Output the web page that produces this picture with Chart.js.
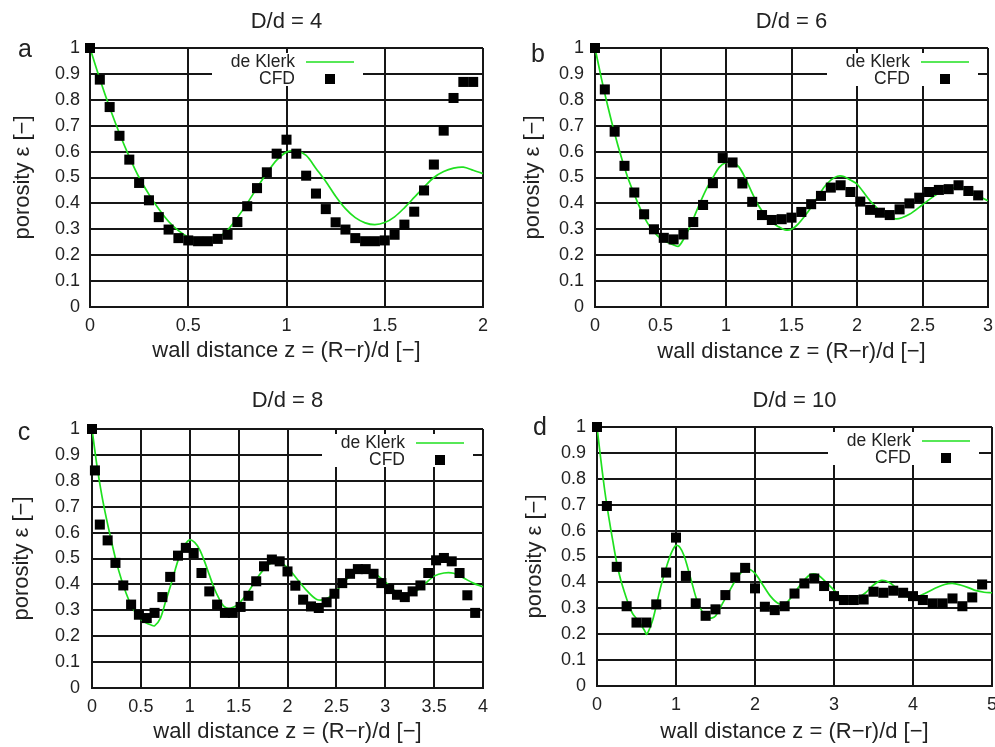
<!DOCTYPE html>
<html><head><meta charset="utf-8">
<script src="https://cdn.jsdelivr.net/npm/chart.js@4.4.1/dist/chart.umd.min.js"></script>
<style>
html,body{margin:0;padding:0;background:#fff;overflow:hidden;width:995px;height:747px;}
canvas{position:absolute;}
</style></head><body>
<canvas id="ca" width="497" height="372" style="left:0px;top:0px"></canvas>
<canvas id="cb" width="503" height="372" style="left:497px;top:0px"></canvas>
<canvas id="cc" width="497" height="375" style="left:0px;top:372px"></canvas>
<canvas id="cd" width="503" height="375" style="left:497px;top:372px"></canvas>
<script>
// ---------- data ----------
const seriesNames = ['de Klerk', 'CFD'];
const panelTitles = ['D/d = 4', 'D/d = 6', 'D/d = 8', 'D/d = 10'];
const panelLetters = ['a', 'b', 'c', 'd'];
const xAxisTitle = 'wall distance z = (R\u2212r)/d [\u2212]';
const yAxisTitle = 'porosity \u03b5 [\u2212]';

const yTicks = [0, 0.1, 0.2, 0.3, 0.4, 0.5, 0.6, 0.7, 0.8, 0.9, 1];
const yTickLabels = ['0', '0.1', '0.2', '0.3', '0.4', '0.5', '0.6', '0.7', '0.8', '0.9', '1'];
const xTicksA = [0, 0.5, 1, 1.5, 2];
const xTickLabelsA = ['0', '0.5', '1', '1.5', '2'];
const xTicksB = [0, 0.5, 1, 1.5, 2, 2.5, 3];
const xTickLabelsB = ['0', '0.5', '1', '1.5', '2', '2.5', '3'];
const xTicksC = [0, 0.5, 1, 1.5, 2, 2.5, 3, 3.5, 4];
const xTickLabelsC = ['0', '0.5', '1', '1.5', '2', '2.5', '3', '3.5', '4'];
const xTicksD = [0, 1, 2, 3, 4, 5];
const xTickLabelsD = ['0', '1', '2', '3', '4', '5'];

// Panel a: D/d = 4
const aCfdX = [0,0.05,0.1,0.15,0.2,0.25,0.3,0.35,0.4,0.45,0.5,0.55,0.6,0.65,0.7,0.75,0.8,0.85,0.9,0.95,1.0,1.05,1.1,1.15,1.2,1.25,1.3,1.35,1.4,1.45,1.5,1.55,1.6,1.65,1.7,1.75,1.8,1.85,1.9,1.95];
const aCfdY = [1.0,0.878,0.772,0.661,0.569,0.479,0.412,0.347,0.299,0.266,0.257,0.254,0.254,0.263,0.279,0.328,0.389,0.459,0.52,0.592,0.646,0.592,0.507,0.438,0.378,0.327,0.299,0.266,0.254,0.254,0.257,0.279,0.318,0.368,0.45,0.55,0.681,0.807,0.869,0.869];
const aKlerkX = [0,0.05,0.1,0.15,0.2,0.25,0.3,0.35,0.4,0.45,0.5,0.55,0.6,0.64,0.7,0.75,0.8,0.85,0.9,0.95,1.0,1.05,1.1,1.15,1.2,1.25,1.3,1.35,1.4,1.45,1.5,1.55,1.6,1.65,1.7,1.75,1.8,1.85,1.9,1.95,2.0];
const aKlerkY = [1.0,0.88,0.77,0.67,0.58,0.5,0.435,0.378,0.33,0.295,0.27,0.257,0.253,0.262,0.297,0.345,0.4,0.46,0.517,0.567,0.598,0.603,0.585,0.535,0.485,0.428,0.38,0.345,0.325,0.318,0.326,0.348,0.383,0.423,0.463,0.5,0.523,0.536,0.54,0.528,0.515];

// Panel b: D/d = 6
const bCfdX = [0,0.075,0.15,0.225,0.3,0.375,0.45,0.525,0.6,0.675,0.75,0.825,0.9,0.975,1.05,1.125,1.2,1.275,1.35,1.425,1.5,1.575,1.65,1.725,1.8,1.875,1.95,2.025,2.1,2.175,2.25,2.325,2.4,2.475,2.55,2.625,2.7,2.775,2.85,2.925];
const bCfdY = [1.0,0.84,0.677,0.545,0.442,0.358,0.30,0.267,0.261,0.28,0.328,0.394,0.478,0.575,0.558,0.477,0.406,0.355,0.336,0.339,0.345,0.367,0.397,0.429,0.461,0.47,0.444,0.407,0.375,0.364,0.355,0.377,0.40,0.422,0.444,0.452,0.455,0.47,0.448,0.431];
const bKlerkX = [0,0.05,0.1,0.15,0.2,0.25,0.3,0.35,0.4,0.45,0.5,0.55,0.6,0.64,0.7,0.75,0.8,0.85,0.9,0.95,1.0,1.05,1.1,1.15,1.2,1.25,1.3,1.35,1.4,1.45,1.5,1.55,1.6,1.65,1.7,1.75,1.8,1.85,1.9,1.95,2.0,2.1,2.2,2.3,2.4,2.5,2.6,2.7,2.8,2.9,3.0];
const bKlerkY = [1.0,0.88,0.77,0.67,0.58,0.5,0.435,0.375,0.325,0.29,0.265,0.25,0.24,0.235,0.285,0.34,0.4,0.455,0.5,0.54,0.558,0.56,0.54,0.495,0.44,0.39,0.355,0.328,0.31,0.298,0.3,0.32,0.35,0.385,0.425,0.463,0.49,0.505,0.504,0.49,0.475,0.41,0.362,0.34,0.358,0.395,0.432,0.455,0.458,0.435,0.41];

// Panel c: D/d = 8
const cCfdX = [0,0.03,0.08,0.16,0.24,0.32,0.4,0.48,0.56,0.64,0.72,0.8,0.88,0.96,1.04,1.12,1.2,1.28,1.36,1.44,1.52,1.6,1.68,1.76,1.84,1.92,2.0,2.08,2.16,2.24,2.32,2.4,2.48,2.56,2.64,2.72,2.8,2.88,2.96,3.04,3.12,3.2,3.28,3.36,3.44,3.52,3.6,3.68,3.76,3.84,3.92];
const cCfdY = [1.0,0.84,0.631,0.57,0.483,0.396,0.322,0.283,0.27,0.29,0.351,0.429,0.511,0.541,0.521,0.444,0.373,0.322,0.29,0.29,0.313,0.356,0.412,0.47,0.496,0.489,0.45,0.395,0.341,0.315,0.309,0.331,0.364,0.405,0.441,0.459,0.459,0.441,0.405,0.382,0.36,0.351,0.373,0.396,0.444,0.493,0.502,0.489,0.444,0.358,0.29];
const cKlerkX = [0,0.05,0.1,0.15,0.2,0.25,0.3,0.35,0.4,0.45,0.5,0.55,0.6,0.64,0.7,0.75,0.8,0.85,0.9,0.95,1.0,1.05,1.1,1.15,1.2,1.25,1.3,1.35,1.4,1.45,1.5,1.6,1.7,1.8,1.9,2.0,2.1,2.2,2.3,2.4,2.5,2.6,2.7,2.8,2.9,3.0,3.1,3.2,3.3,3.4,3.5,3.6,3.7,3.8,3.9,4.0];
const cKlerkY = [1.0,0.86,0.745,0.65,0.565,0.485,0.42,0.365,0.32,0.288,0.265,0.252,0.244,0.24,0.27,0.33,0.39,0.455,0.515,0.553,0.572,0.562,0.535,0.49,0.437,0.385,0.345,0.315,0.307,0.313,0.325,0.372,0.43,0.475,0.488,0.465,0.42,0.375,0.342,0.345,0.375,0.418,0.45,0.457,0.44,0.41,0.375,0.355,0.37,0.4,0.432,0.444,0.443,0.425,0.405,0.39];

// Panel d: D/d = 10
const dCfdX = [0,0.125,0.25,0.375,0.5,0.625,0.75,0.875,1.0,1.125,1.25,1.375,1.5,1.625,1.75,1.875,2.0,2.125,2.25,2.375,2.5,2.625,2.75,2.875,3.0,3.125,3.25,3.375,3.5,3.625,3.75,3.875,4.0,4.125,4.25,4.375,4.5,4.625,4.75,4.875];
const dCfdY = [1.0,0.695,0.46,0.308,0.245,0.245,0.315,0.438,0.573,0.425,0.319,0.271,0.296,0.351,0.419,0.456,0.377,0.306,0.293,0.308,0.357,0.396,0.415,0.386,0.347,0.332,0.332,0.334,0.364,0.36,0.368,0.36,0.347,0.332,0.319,0.319,0.338,0.308,0.342,0.392];
const dKlerkX = [0,0.05,0.1,0.15,0.2,0.25,0.3,0.35,0.4,0.45,0.5,0.55,0.6,0.63,0.7,0.75,0.8,0.85,0.9,0.95,1.0,1.05,1.1,1.15,1.2,1.25,1.3,1.35,1.4,1.45,1.5,1.6,1.7,1.8,1.9,2.0,2.1,2.2,2.3,2.4,2.5,2.6,2.7,2.8,2.9,3.0,3.1,3.2,3.3,3.4,3.5,3.6,3.7,3.8,3.9,4.0,4.1,4.2,4.3,4.4,4.5,4.6,4.7,4.8,4.9,5.0];
const dKlerkY = [1.0,0.87,0.75,0.65,0.56,0.475,0.41,0.36,0.315,0.28,0.26,0.24,0.215,0.2,0.25,0.31,0.375,0.43,0.48,0.52,0.543,0.535,0.505,0.455,0.4,0.345,0.305,0.28,0.265,0.262,0.27,0.325,0.38,0.43,0.452,0.435,0.39,0.345,0.318,0.322,0.36,0.4,0.43,0.428,0.4,0.37,0.34,0.33,0.34,0.36,0.39,0.408,0.4,0.375,0.35,0.335,0.35,0.365,0.38,0.392,0.396,0.39,0.38,0.368,0.362,0.36];

// ---------- style ----------
const FONT = '"Liberation Sans", Arial, Helvetica, sans-serif';
const TEXT = '#222';
const GRID = '#161616';
const GREEN = '#1fe01f';

function pts(xs, ys) { return xs.map((x, i) => ({x: x, y: ys[i]})); }

const decor = {
  id: 'decor',
  beforeDatasetsDraw(chart, args, o) {
    const ctx = chart.ctx, T = chart.chartArea.top, lx = o.legendLeft;
    ctx.save();
    ctx.fillStyle = '#fff';
    ctx.fillRect(lx, T + 5, 151, 33);
    ctx.font = '17.5px ' + FONT;
    ctx.fillStyle = TEXT; ctx.textAlign = 'right'; ctx.textBaseline = 'middle';
    ctx.fillText(seriesNames[0], lx + 83, T + 14);
    ctx.fillText(seriesNames[1], lx + 83, T + 31);
    ctx.strokeStyle = GREEN; ctx.lineWidth = 1.7;
    ctx.beginPath(); ctx.moveTo(lx + 94, T + 14); ctx.lineTo(lx + 142, T + 14); ctx.stroke();
    ctx.fillStyle = '#000';
    ctx.fillRect(lx + 118 - 5, T + 31 - 5, 10, 10);
    ctx.restore();
  },
  afterDraw(chart, args, o) {
    const ctx = chart.ctx;
    ctx.save();
    ctx.font = '25px ' + FONT;
    ctx.fillStyle = TEXT; ctx.textAlign = 'center'; ctx.textBaseline = 'middle';
    ctx.fillText(o.letter, o.letterX, o.letterY);
    ctx.restore();
  }
};

function makePanel(id, p) {
  new Chart(document.getElementById(id), {
    type: 'scatter',
    data: {
      datasets: [
        {label: seriesNames[1], data: pts(p.cfdX, p.cfdY), pointStyle: 'rect', pointRadius: 7.1,
         pointHoverRadius: 7.1, backgroundColor: '#000', borderColor: '#000', borderWidth: 0, clip: false},
        {label: seriesNames[0], data: pts(p.klerkX, p.klerkY), showLine: true, pointRadius: 0,
         borderColor: GREEN, borderWidth: 1.7, tension: 0.3, fill: false}
      ]
    },
    options: {
      responsive: false, animation: false, devicePixelRatio: 1,
      layout: {padding: {left: 0, right: p.rightPad, top: 0, bottom: 0}},
      plugins: {
        legend: {display: false}, tooltip: {enabled: false},
        title: {display: true, text: p.title, fullSize: false, color: TEXT,
                font: {family: FONT, size: 22, weight: 'normal'}, padding: p.titlePad},
        decor: {legendLeft: p.legendLeft, letter: p.letter, letterX: p.letterX, letterY: p.letterY}
      },
      scales: {
        x: {
          type: 'linear', min: 0, max: p.xMax,
          afterBuildTicks: s => { s.ticks = p.xTicks.map(v => ({value: v})); },
          afterFit: s => { s.height = p.xHeight; s.paddingLeft = 0; s.paddingRight = 0; },
          ticks: {callback: (v, i) => p.xTickLabels[i], color: TEXT, padding: p.xTickPad,
                  font: {family: FONT, size: 18}, maxRotation: 0, autoSkip: false},
          grid: {color: GRID, lineWidth: 2, drawTicks: false},
          border: {color: GRID, width: 2},
          title: {display: true, text: xAxisTitle, color: TEXT, font: {family: FONT, size: 22},
                  padding: {top: 0, bottom: p.xTitlePad}}
        },
        y: {
          type: 'linear', min: 0, max: 1,
          afterBuildTicks: s => { s.ticks = yTicks.map(v => ({value: v})); },
          afterFit: s => { s.width = p.yWidth; },
          ticks: {callback: (v, i) => yTickLabels[i], color: TEXT, padding: p.yTickPad,
                  font: {family: FONT, size: 18}, autoSkip: false},
          grid: {color: GRID, lineWidth: 2, drawTicks: false},
          border: {color: GRID, width: 2},
          title: {display: true, text: yAxisTitle, color: TEXT, font: {family: FONT, size: 22},
                  padding: {top: p.yTitlePad, bottom: 0}}
        }
      }
    },
    plugins: [decor]
  });
}

makePanel('ca', {title: panelTitles[0], letter: panelLetters[0], letterX: 25, letterY: 50,
  cfdX: aCfdX, cfdY: aCfdY, klerkX: aKlerkX, klerkY: aKlerkY,
  xMax: 2, xTicks: xTicksA, xTickLabels: xTickLabelsA,
  rightPad: 14, yWidth: 90, xHeight: 65, titlePad: {top: 8.8, bottom: 12.8},
  xTickPad: 8, yTickPad: 10, xTitlePad: 8, yTitlePad: 9.8, legendLeft: 212});

makePanel('cb', {title: panelTitles[1], letter: panelLetters[1], letterX: 41, letterY: 55,
  cfdX: bCfdX, cfdY: bCfdY, klerkX: bKlerkX, klerkY: bKlerkY,
  xMax: 3, xTicks: xTicksB, xTickLabels: xTickLabelsB,
  rightPad: 12, yWidth: 98, xHeight: 65, titlePad: {top: 8.8, bottom: 12.8},
  xTickPad: 8, yTickPad: 11, xTitlePad: 7, yTitlePad: 22.8, legendLeft: 330});

makePanel('cc', {title: panelTitles[2], letter: panelLetters[2], letterX: 24, letterY: 61,
  cfdX: cCfdX, cfdY: cCfdY, klerkX: cKlerkX, klerkY: cKlerkY,
  xMax: 4, xTicks: xTicksC, xTickLabels: xTickLabelsC,
  rightPad: 14, yWidth: 92, xHeight: 59, titlePad: {top: 15.8, bottom: 14.8},
  xTickPad: 8, yTickPad: 12, xTitlePad: 2, yTitlePad: 8.8, legendLeft: 322});

makePanel('cd', {title: panelTitles[3], letter: panelLetters[3], letterX: 43, letterY: 56,
  cfdX: dCfdX, cfdY: dCfdY, klerkX: dKlerkX, klerkY: dKlerkY,
  xMax: 5, xTicks: xTicksD, xTickLabels: xTickLabelsD,
  rightPad: 8, yWidth: 100, xHeight: 61, titlePad: {top: 15.8, bottom: 12.8},
  xTickPad: 8, yTickPad: 11, xTitlePad: 2, yTitlePad: 24.8, legendLeft: 331});
</script>
</body></html>
